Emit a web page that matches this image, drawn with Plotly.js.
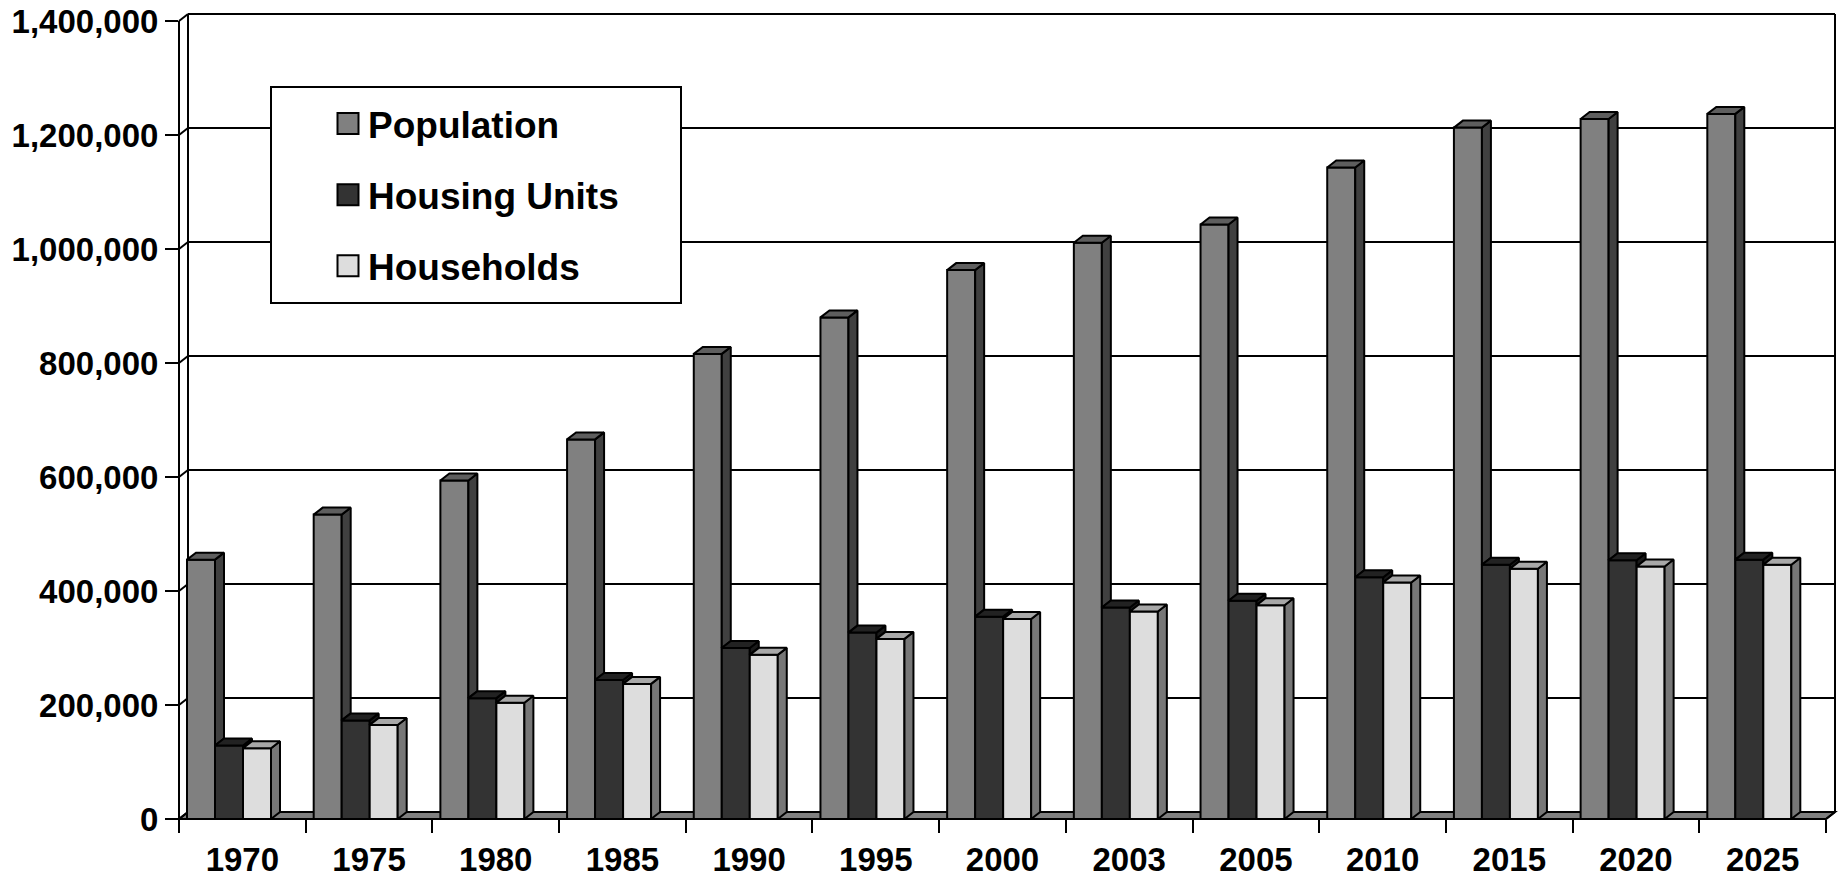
<!DOCTYPE html>
<html>
<head>
<meta charset="utf-8">
<script src="https://cdn.plot.ly/plotly-3.0.1.min.js"></script>
<style>
html,body{margin:0;padding:0;background:#fff;}
#chart{width:1843px;height:878px;}
</style>
</head>
<body>
<div id="chart"></div>
<script>
// ---- data ----
const years = ['1970','1975','1980','1985','1990','1995','2000','2003','2005','2010','2015','2020','2025'];
const population = [455000, 534000, 594000, 666000, 816000, 880000, 963000, 1011000, 1043000, 1143000, 1213000, 1228000, 1237000];
const housingUnits = [129000, 173000, 212000, 244000, 300000, 327000, 355000, 371000, 383000, 424000, 446000, 454000, 455000];
const households = [124000, 165000, 204000, 237000, 288000, 316000, 351000, 364000, 375000, 415000, 439000, 443000, 446000];
const seriesNames = ['Population', 'Housing Units', 'Households'];
const yTickVals = [0, 200000, 400000, 600000, 800000, 1000000, 1200000, 1400000];
const yTickText = ['0', '200,000', '400,000', '600,000', '800,000', '1,000,000', '1,200,000', '1,400,000'];

// ---- geometry / style ----
const W = 1843, H = 878;
const plotL = 179, plotR = 1835, plotT = 14, plotB = 819;
const frontR = 1826, frontTop = 21;
const depthX = 9, depthY = 7;
const nCat = years.length;
const catW = (frontR - plotL) / nCat;
const yMax = 1400000;
const pxPerUnit = (plotB - frontTop) / yMax;
const yRange = [0, (plotB - plotT) / pxPerUnit];
const xRange = [-0.5, -0.5 + (plotR - plotL) / catW];
const dX = depthX / catW, dY = depthY / pxPerUnit;
const barLeftPad = 8, barPx = 28;
const barW = barPx / catW;
const FONT = '"Liberation Sans", Arial, sans-serif';
const LW = 2;

const faceColors = [
  {front: '#808080', top: '#5e5e5e', side: '#404040'},
  {front: '#333333', top: '#222222', side: '#1a1a1a'},
  {front: '#dddddd', top: '#a8a8a8', side: '#777777'}
];
const seriesValues = [population, housingUnits, households];

const xs = years.map((_, i) => i);
const traces = [];

// front faces (bars)
seriesValues.forEach((vals, s) => {
  traces.push({
    type: 'bar', name: seriesNames[s], legendgroup: 'g' + s,
    x: xs, y: vals,
    width: barW, offset: -0.5 + (barLeftPad + s * barPx) / catW,
    marker: {color: faceColors[s].front, line: {color: '#000', width: LW}},
    hoverinfo: 'skip'
  });
});

// top and side faces (3D effect) built from data
seriesValues.forEach((vals, s) => {
  const off = -0.5 + (barLeftPad + s * barPx) / catW;
  const next = s < seriesValues.length - 1 ? seriesValues[s + 1] : null;
  const sx = [], sy = [], tx = [], ty = [];
  vals.forEach((v, i) => {
    const x0 = i + off, x1 = x0 + barW;
    const base = next ? next[i] : 0;
    sx.push(x1, x1, x1 + dX, x1 + dX, x1, null);
    sy.push(base, v, v + dY, base + dY, base, null);
    tx.push(x0, x0 + dX, x1 + dX, x1, x0, null);
    ty.push(v, v + dY, v + dY, v, v, null);
  });
  traces.push({
    type: 'scatter', mode: 'lines', x: sx, y: sy, fill: 'toself',
    fillcolor: faceColors[s].side, line: {color: '#000', width: LW},
    showlegend: false, hoverinfo: 'skip', legendgroup: 'g' + s
  });
  traces.push({
    type: 'scatter', mode: 'lines', x: tx, y: ty, fill: 'toself',
    fillcolor: faceColors[s].top, line: {color: '#000', width: LW},
    showlegend: false, hoverinfo: 'skip', legendgroup: 'g' + s
  });
});

// ---- frame shapes (pixel -> paper) ----
const px = p => (p - plotL) / (plotR - plotL);
const py = p => (plotB - p) / (plotB - plotT);
const line = (x0, y0, x1, y1, layer) => ({
  type: 'line', xref: 'paper', yref: 'paper',
  x0: px(x0), y0: py(y0), x1: px(x1), y1: py(y1),
  line: {color: '#000', width: LW}, layer: layer || 'below'
});
const shapes = [];
shapes.push({
  type: 'path', xref: 'paper', yref: 'paper', layer: 'below',
  path: `M${px(plotL)},${py(plotB)} L${px(frontR)},${py(plotB)} L${px(frontR + depthX)},${py(plotB - depthY)} L${px(plotL + depthX)},${py(plotB - depthY)} Z`,
  fillcolor: '#808080', line: {color: '#000', width: LW}
});
yTickVals.forEach(v => {
  const yF = plotB - v * pxPerUnit;
  shapes.push(line(plotL, yF, plotL + depthX, yF - depthY));
  shapes.push(line(plotL + depthX, yF - depthY, plotR, yF - depthY));
});
shapes.push(line(plotL + depthX, plotT, plotL + depthX, plotB - depthY));
shapes.push(line(plotR, plotT, plotR, plotB - depthY));
shapes.push(line(plotL, frontTop, plotL, plotB, 'above'));
shapes.push(line(plotL, plotB, frontR, plotB, 'above'));
shapes.push(line(frontR, plotB, frontR + depthX, plotB - depthY, 'above'));
shapes.push({
  type: 'rect', xref: 'paper', yref: 'paper', layer: 'above',
  x0: px(271), x1: px(681), y0: py(87), y1: py(303),
  fillcolor: '#fff', line: {color: '#000', width: LW}
});

const catBounds = [];
for (let i = 0; i <= nCat; i++) catBounds.push(i - 0.5);

const layout = {
  width: W, height: H,
  margin: {l: plotL, r: W - plotR, t: plotT, b: H - plotB, pad: 0},
  paper_bgcolor: '#fff', plot_bgcolor: 'rgba(0,0,0,0)',
  barmode: 'overlay',
  showlegend: true,
  font: {family: FONT, color: '#000'},
  xaxis: {
    range: xRange, showgrid: false, zeroline: false, showline: false,
    tickmode: 'array', tickvals: xs, ticktext: years,
    ticks: 'outside', ticklen: 11, tickcolor: 'rgba(0,0,0,0)',
    tickfont: {family: FONT, size: 33, weight: 'bold', color: '#000'},
    minor: {tickmode: 'array', tickvals: catBounds, ticks: 'outside', ticklen: 13, tickwidth: LW, tickcolor: '#000', showgrid: false},
    fixedrange: true
  },
  yaxis: {
    range: yRange, showgrid: false, zeroline: false, showline: false,
    tickmode: 'array', tickvals: yTickVals, ticktext: yTickText,
    ticks: 'outside', ticklen: 13, tickwidth: LW, tickcolor: '#000',
    tickfont: {family: FONT, size: 33, weight: 'bold', color: '#000'},
    fixedrange: true
  },
  legend: {
    x: px(328), xanchor: 'left', y: py(93), yanchor: 'top',
    bgcolor: 'rgba(0,0,0,0)', borderwidth: 0,
    font: {family: FONT, size: 37, weight: 'bold', color: '#000'},
    traceorder: 'grouped', tracegroupgap: 20,
    itemclick: false, itemdoubleclick: false
  },
  shapes: shapes,
  hovermode: false
};

Plotly.newPlot('chart', traces, layout, {displayModeBar: false, staticPlot: true}).then(gd => {
  gd.querySelectorAll('.legend .legendpoints path').forEach(p => {
    const t = p.getAttribute('transform') || '';
    p.setAttribute('transform', t + ' scale(1.75)');
    p.style.vectorEffect = 'non-scaling-stroke';
  });
});
</script>
</body>
</html>
